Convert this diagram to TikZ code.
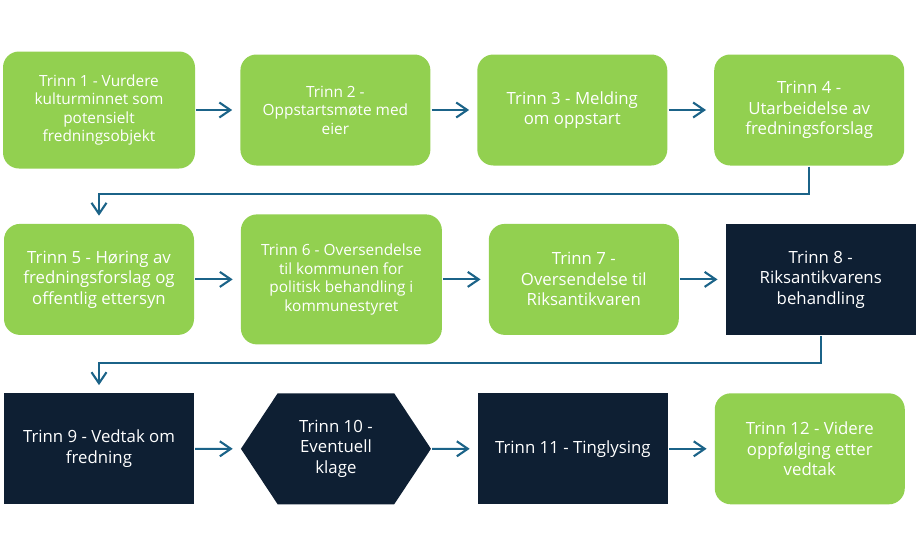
\documentclass[tikz,border=0pt]{standalone}
\usepackage{fontspec}
\setmainfont{Open Sans}
\usetikzlibrary{positioning, arrows.meta, shapes.symbols}
\definecolor{stepgreen}{HTML}{92D050}
\definecolor{stepnavy}{HTML}{0E1F33}
\definecolor{flowblue}{HTML}{1B6388}

\begin{document}
\begin{tikzpicture}[
    x=1pt, y=1pt,
    % same gap between blocks in a row and between the rows
    node distance=58pt and 46.5pt,
    box/.style={rectangle, align=center, text=white, inner sep=3pt, minimum width=190pt, minimum height=111pt, font=\fontsize{16.8}{20.5}\selectfont},
    greenbox/.style={box, fill=stepgreen, rounded corners=16pt},
    navybox/.style={box, fill=stepnavy},
    hexbox/.style={box, fill=stepnavy, signal, signal to=west and east, signal pointer angle=113},
    small/.style={font=\fontsize{15.4}{18.5}\selectfont},
    arrow/.style={-{Straight Barb[length=11pt,width=15pt]}, line width=2.1pt, draw=flowblue, shorten >=8pt, shorten <=1pt}
]
    \useasboundingbox (0,0) rectangle (918,-557);

    % row 1
    \node[greenbox, small, minimum width=192pt, minimum height=117pt] (b1) at (99,-110) {Trinn 1 - Vurdere \\ kulturminnet som \\ potensielt \\ fredningsobjekt};
    \node[greenbox, small] (b2) [right=45pt of b1] {Trinn 2 - \\ Oppstartsmøte med \\ eier};
    \node[greenbox] (b3) [right=of b2] {Trinn 3 - Melding \\ om oppstart};
    \node[greenbox] (b4) [right=of b3] {Trinn 4 - \\ Utarbeidelse av \\ fredningsforslag};

    % row 2
    \node[greenbox] (b5) [below=55pt of b1] {Trinn 5 - Høring av \\ fredningsforslag og \\ offentlig ettersyn};
    \node[greenbox, small, minimum width=201pt, minimum height=130pt] (b6) [right=of b5] {Trinn 6 - Oversendelse \\ til kommunen for \\ politisk behandling i \\ kommunestyret};
    \node[greenbox] (b7) [right=of b6] {Trinn 7 - \\ Oversendelse til \\ Riksantikvaren};
    \node[navybox] (b8) [right=of b7] {Trinn 8 - \\ Riksantikvarens \\ behandling};

    % row 3
    \node[navybox] (b9) [below=of b5] {Trinn 9 - Vedtak om \\ fredning};
    \node[hexbox] (b10) [right=of b9] {Trinn 10 - \\ Eventuell \\ klage};
    \node[navybox] (b11) [right=of b10] {Trinn 11 - Tinglysing};
    \node[greenbox] (b12) [right=of b11] {Trinn 12 - Videre \\ oppfølging etter \\ vedtak};

    \draw[arrow] (b1) -- (b2);
    \draw[arrow] (b2) -- (b3);
    \draw[arrow] (b3) -- (b4);
    \draw[arrow] (b4.south) -- ++(0,-28) -| (b5.north);

    \draw[arrow] (b5) -- (b6);
    \draw[arrow] (b6) -- (b7);
    \draw[arrow] (b7) -- (b8);
    \draw[arrow] (b8.south) -- ++(0,-28) -| (b9.north);

    \draw[arrow] (b9) -- (b10);
    \draw[arrow] (b10) -- (b11);
    \draw[arrow] (b11) -- (b12);
\end{tikzpicture}
\end{document}
